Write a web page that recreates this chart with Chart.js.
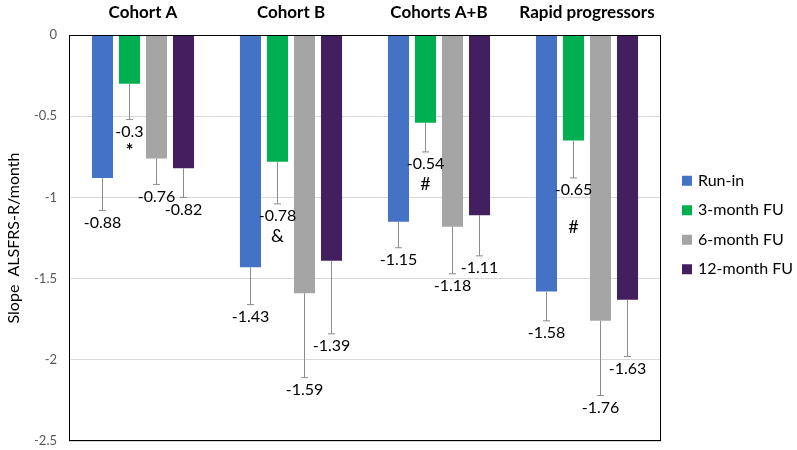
<!DOCTYPE html>
<html>
<head>
<meta charset="utf-8">
<script src="https://cdn.jsdelivr.net/npm/chart.js@4.4.1/dist/chart.umd.min.js"></script>
<style>
  html, body { margin: 0; padding: 0; background: #fff; }
  #wrap { width: 797px; height: 450px; }
</style>
</head>
<body>
<div id="wrap"><canvas id="slopeChart"></canvas></div>
<script>
const groups = ['Cohort A', 'Cohort B', 'Cohorts A+B', 'Rapid progressors'];
const seriesNames = ['Run-in', '3-month FU', '6-month FU', '12-month FU'];

const runIn   = [-0.88, -1.43, -1.15, -1.58];
const month3  = [-0.30, -0.78, -0.54, -0.65];
const month6  = [-0.76, -1.59, -1.18, -1.76];
const month12 = [-0.82, -1.39, -1.11, -1.63];

// lower end of each error bar
const runInLow   = [-1.08, -1.66, -1.31, -1.76];
const month3Low  = [-0.52, -1.04, -0.72, -0.88];
const month6Low  = [-0.92, -2.11, -1.47, -2.22];
const month12Low = [-1.00, -1.84, -1.36, -1.98];

// significance marks under the 3-month FU bars
const month3Marks = ['*', '&', '#', '#'];

const yTicks = [0, -0.5, -1, -1.5, -2, -2.5];

const colors = ['#4472C4', '#00B050', '#A5A5A5', '#441F5F'];
const values = [runIn, month3, month6, month12];
const lows = [runInLow, month3Low, month6Low, month12Low];

const FONT = 'Lato, "Open Sans", sans-serif';

const extras = {
  id: 'extras',
  afterDatasetsDraw(chart) {
    const ctx = chart.ctx;
    const y = chart.scales.y;
    const area = chart.chartArea;
    ctx.save();

    chart.data.datasets.forEach((ds, di) => {
      const meta = chart.getDatasetMeta(di);
      meta.data.forEach((bar, i) => {
        const top = y.getPixelForValue(ds.data[i]);
        const low = y.getPixelForValue(lows[di][i]);
        // error bar
        ctx.strokeStyle = '#8C8C8C';
        ctx.lineWidth = 1;
        ctx.beginPath();
        ctx.moveTo(bar.x, top);
        ctx.lineTo(bar.x, low);
        ctx.moveTo(bar.x - 3.5, low);
        ctx.lineTo(bar.x + 3.5, low);
        ctx.stroke();
        // value label
        ctx.fillStyle = '#000';
        ctx.font = '16px ' + FONT;
        ctx.textAlign = 'center';
        ctx.textBaseline = 'top';
        ctx.fillText(String(ds.data[i]), bar.x, low + 4);
        // marks
        if (di === 1) {
          const gap = i === 3 ? 36 : 19;
          ctx.font = (month3Marks[i] === '*' ? 'bold 18px ' : '18px ') + FONT;
          ctx.fillText(month3Marks[i], bar.x, low + 4 + gap);
        }
      });
    });

    // plot frame
    ctx.strokeStyle = '#000';
    ctx.lineWidth = 1;
    ctx.strokeRect(area.left + 0.5, area.top + 0.5, area.right - area.left - 1, area.bottom - area.top - 1);

    // legend
    const step = 29.5;
    const y0 = chart.height / 2 - step * 1.5;
    ctx.font = '16px ' + FONT;
    ctx.textAlign = 'left';
    ctx.textBaseline = 'middle';
    chart.data.datasets.forEach((ds, di) => {
      const cy = y0 + di * step;
      ctx.fillStyle = ds.backgroundColor;
      ctx.fillRect(682, cy - 5, 10, 10);
      ctx.fillStyle = '#000';
      ctx.fillText(ds.label, 698, cy);
    });
    ctx.restore();
  }
};

new Chart(document.getElementById('slopeChart'), {
  type: 'bar',
  data: {
    labels: groups,
    datasets: seriesNames.map((name, i) => ({
      label: name,
      data: values[i],
      backgroundColor: colors[i],
      categoryPercentage: 0.73,
      barPercentage: 0.78
    }))
  },
  options: {
    responsive: true,
    maintainAspectRatio: false,
    animation: false,
    layout: { padding: { left: 0, top: 0, right: 136, bottom: 9 } },
    plugins: {
      legend: { display: false },
      tooltip: { enabled: false }
    },
    scales: {
      x: {
        position: 'top',
        grid: { display: false, drawTicks: false },
        border: { display: false },
        ticks: {
          color: '#000',
          font: { family: FONT, size: 17, weight: 'bold' },
          padding: 12
        },
        afterFit(scale) {
          scale.height = 35;
          scale.paddingLeft = 0;
          scale.paddingRight = 0;
        }
      },
      y: {
        min: -2.5,
        max: 0,
        afterBuildTicks(scale) { scale.ticks = yTicks.map(v => ({ value: v })); },
        ticks: {
          color: '#595959',
          font: { family: FONT, size: 13 },
          padding: 12,
          callback: v => String(v)
        },
        grid: { color: '#D9D9D9', drawTicks: false },
        border: { display: false },
        title: {
          display: true,
          text: 'Slope  ALSFRS-R/month',
          color: '#000',
          font: { family: FONT, size: 16 }
        },
        afterFit(scale) {
          scale.width = 69;
          scale.paddingTop = 0;
          scale.paddingBottom = 0;
        }
      }
    }
  },
  plugins: [extras]
});
</script>
</body>
</html>
